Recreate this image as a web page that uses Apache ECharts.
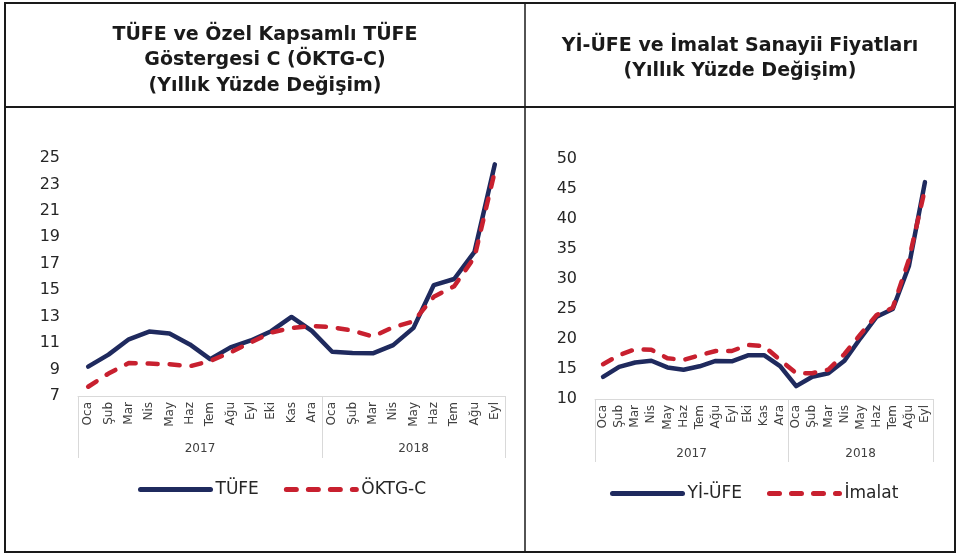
<!DOCTYPE html>
<html>
<head>
<meta charset="utf-8">
<script src="https://cdn.jsdelivr.net/npm/echarts@6/dist/echarts.min.js"></script>
<style>
  html, body { margin: 0; padding: 0; background: #fff; }
  #main { width: 960px; height: 555px; }
</style>
</head>
<body>
<div id="main"></div>
<script>
  // aylar (2017 Oca - 2018 Eyl)
  const months = ['Oca', 'Şub', 'Mar', 'Nis', 'May', 'Haz', 'Tem', 'Ağu', 'Eyl', 'Eki', 'Kas', 'Ara',
    'Oca', 'Şub', 'Mar', 'Nis', 'May', 'Haz', 'Tem', 'Ağu', 'Eyl'];
  const years = ['2017', '2018'];
  const monthsPerYear = [12, 9];

  // sol grafik
  const tufe = [9.22, 10.13, 11.29, 11.87, 11.72, 10.90, 9.79, 10.68, 11.20, 11.90, 12.98, 11.92,
    10.35, 10.26, 10.23, 10.85, 12.15, 15.39, 15.85, 17.90, 24.52];
  const oktgC = [7.7, 8.7, 9.5, 9.45, 9.4, 9.25, 9.65, 10.3, 11.05, 11.8, 12.15, 12.3,
    12.2, 11.95, 11.5, 12.2, 12.65, 14.5, 15.3, 17.5, 24.0];

  // sag grafik
  const yiUfe = [13.69, 15.36, 16.09, 16.37, 15.26, 14.87, 15.45, 16.34, 16.28, 17.28, 17.30, 15.47,
    12.14, 13.71, 14.28, 16.37, 20.16, 23.71, 25.00, 32.13, 46.15];
  const imalat = [15.8, 17.3, 18.3, 18.2, 16.8, 16.5, 17.3, 18.0, 18.0, 19.0, 18.8, 16.5,
    14.3, 14.3, 14.9, 17.5, 20.8, 24.0, 25.2, 33.2, 45.0];

  const FONT = 'DejaVu Sans';
  const NAVY = '#1f2a5e';
  const RED = '#c8202f';

  // yil sinirlari ve ortalari
  const yearBounds = [0];
  monthsPerYear.forEach(n => yearBounds.push(yearBounds[yearBounds.length - 1] + n));
  const yearCenters = monthsPerYear.map((n, i) => yearBounds[i] + n / 2);

  function monthAxis(gridIndex) {
    return {
      gridIndex: gridIndex,
      type: 'category',
      data: months,
      boundaryGap: true,
      axisLine: { lineStyle: { color: '#d9d9d9', width: 1 } },
      axisTick: { show: false },
      axisLabel: { rotate: 90, interval: 0, fontSize: 12, fontFamily: FONT, color: '#404040', margin: 6 }
    };
  }

  function yearAxis(gridIndex, tickLen, margin) {
    return {
      gridIndex: gridIndex,
      type: 'value',
      position: 'bottom',
      min: 0,
      max: months.length,
      axisLine: { show: false },
      splitLine: { show: false },
      axisTick: { show: true, length: tickLen, customValues: yearBounds, lineStyle: { color: '#d9d9d9', width: 1 } },
      axisLabel: {
        customValues: yearCenters,
        formatter: v => years[yearCenters.indexOf(v)],
        fontSize: 12, fontFamily: FONT, color: '#404040', margin: margin
      }
    };
  }

  function valueAxis(gridIndex, min, max, interval) {
    return {
      gridIndex: gridIndex,
      type: 'value',
      min: min,
      max: max,
      interval: interval,
      axisLine: { show: false },
      axisTick: { show: false },
      splitLine: { show: false },
      axisLabel: { fontSize: 16, fontFamily: FONT, color: '#262626', margin: 18 }
    };
  }

  function solid(name, data, idx) {
    return {
      name: name, type: 'line', data: data, xAxisIndex: idx, yAxisIndex: idx,
      symbol: 'none', smooth: false,
      lineStyle: { color: NAVY, width: 4.5, join: 'round', cap: 'round' },
      itemStyle: { color: NAVY }
    };
  }

  function dashed(name, data, idx) {
    return {
      name: name, type: 'line', data: data, xAxisIndex: idx, yAxisIndex: idx,
      symbol: 'none', smooth: false,
      lineStyle: { color: RED, width: 4.5, type: [10, 12], join: 'round', cap: 'round' },
      itemStyle: { color: RED }
    };
  }

  const titleStyle = { fontFamily: FONT, fontWeight: 'bold', fontSize: 19, lineHeight: 25.5, color: '#1a1a1a' };
  const legendText = { fontSize: 17, fontFamily: FONT, color: '#262626' };

  const chart = echarts.init(document.getElementById('main'));
  const option = {
    backgroundColor: '#fff',
    animation: false,
    title: [{
      text: 'TÜFE ve Özel Kapsamlı TÜFE\nGöstergesi C (ÖKTG-C)\n(Yıllık Yüzde Değişim)',
      left: 265, top: 22, textAlign: 'center', padding: 0,
      textStyle: titleStyle
    }, {
      text: 'Yİ-ÜFE ve İmalat Sanayii Fiyatları\n(Yıllık Yüzde Değişim)',
      left: 740, top: 33, textAlign: 'center', padding: 0,
      textStyle: titleStyle
    }],
    legend: [{
      data: ['TÜFE', 'ÖKTG-C'],
      left: 138, top: 481, padding: 0,
      itemWidth: 70, itemHeight: 20, itemGap: 25,
      itemStyle: { opacity: 0, borderWidth: 0 },
      lineStyle: { width: 5 },
      textStyle: legendText
    }, {
      data: ['Yİ-ÜFE', 'İmalat'],
      left: 610, top: 485, padding: 0,
      itemWidth: 70, itemHeight: 20, itemGap: 25,
      itemStyle: { opacity: 0, borderWidth: 0 },
      lineStyle: { width: 5 },
      textStyle: legendText
    }],
    grid: [
      { left: 78, right: 455, top: 158, bottom: 159 },
      { left: 595, right: 27, top: 159, bottom: 156 }
    ],
    xAxis: [
      monthAxis(0), monthAxis(1),
      yearAxis(0, 62, 47), yearAxis(1, 63, 49)
    ],
    yAxis: [
      valueAxis(0, 7, 25, 2),
      valueAxis(1, 10, 50, 5)
    ],
    series: [
      solid('TÜFE', tufe, 0),
      dashed('ÖKTG-C', oktgC, 0),
      solid('Yİ-ÜFE', yiUfe, 1),
      dashed('İmalat', imalat, 1)
    ],
    // tablo cercevesi
    graphic: [
      { type: 'rect', shape: { x: 5, y: 3, width: 950, height: 549 }, style: { fill: null, stroke: '#1a1a1a', lineWidth: 2 } },
      { type: 'line', shape: { x1: 5, y1: 107, x2: 955, y2: 107 }, style: { stroke: '#1a1a1a', lineWidth: 2 } },
      { type: 'line', shape: { x1: 525, y1: 3, x2: 525, y2: 552 }, style: { stroke: '#1a1a1a', lineWidth: 1.5 } }
    ]
  };
  chart.setOption(option);
</script>
</body>
</html>
